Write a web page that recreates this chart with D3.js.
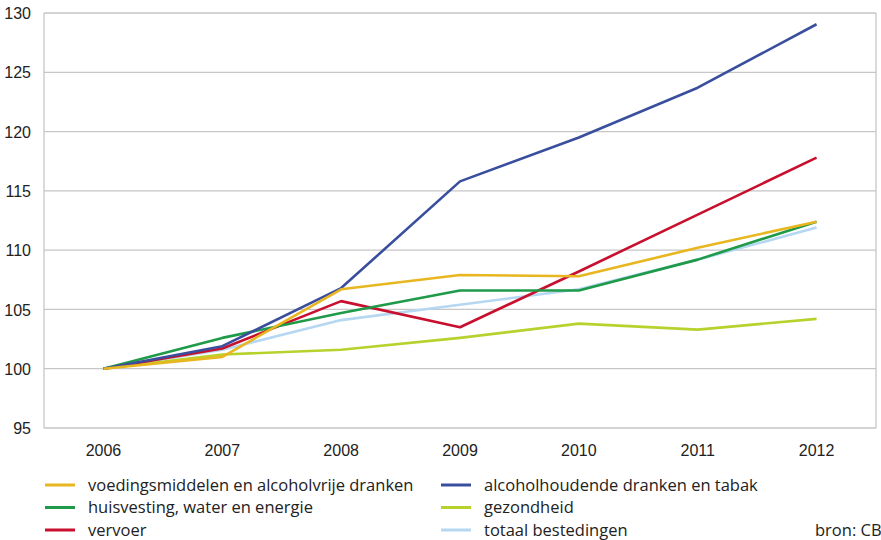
<!DOCTYPE html>
<html>
<head>
<meta charset="utf-8">
<script src="https://cdn.jsdelivr.net/npm/d3@7"></script>
<style>
  body { margin: 0; background: #fff; }
  svg { display: block; font-family: Lato, 'Noto Sans', sans-serif; }
  .tick-label { font-size: 16px; fill: #222; }
  .legend text { font-family: 'Open Sans', Lato, sans-serif; font-size: 16.5px; fill: #222; }
</style>
</head>
<body>
<svg width="881" height="540"></svg>
<script>
// years on the x axis
const years = ['2006', '2007', '2008', '2009', '2010', '2011', '2012']
const yTicks = [95, 100, 105, 110, 115, 120, 125, 130]

// index 2006 = 100
const voeding = [100, 101.0, 106.7, 107.9, 107.8, 110.2, 112.4]
const alcohol = [100, 101.9, 106.8, 115.8, 119.5, 123.7, 129.05]
const huisvesting = [100, 102.6, 104.7, 106.6, 106.6, 109.2, 112.4]
const gezondheid = [100, 101.2, 101.6, 102.6, 103.8, 103.3, 104.2]
const vervoer = [100, 101.7, 105.7, 103.5, 108.2, 113.0, 117.8]
const totaal = [100, 101.6, 104.1, 105.4, 106.7, 109.2, 111.9]

const seriesNames = [
  'voedingsmiddelen en alcoholvrije dranken',
  'alcoholhoudende dranken en tabak',
  'huisvesting, water en energie',
  'gezondheid',
  'vervoer',
  'totaal bestedingen'
]
const seriesValues = [voeding, alcohol, huisvesting, gezondheid, vervoer, totaal]
const colors = ['#e8b61e', '#3a4e9e', '#1e9a48', '#b9d12c', '#c8102e', '#b5d7f1']
// drawing order, back to front
const drawOrder = [5, 3, 4, 2, 1, 0]

const margin = { top: 13, right: 5, bottom: 112, left: 44 },
  width = 881 - margin.left - margin.right,
  height = 540 - margin.top - margin.bottom

const svg = d3.select('svg')
const g = svg.append('g').attr('transform', `translate(${margin.left},${margin.top})`)

const xScale = d3.scaleBand().domain(years).range([0, width])
const yScale = d3.scaleLinear().domain([95, 130]).range([height, 0])

// gridlines
g.selectAll('.grid')
  .data(yTicks)
  .enter()
  .append('line')
  .attr('x1', 0)
  .attr('x2', width)
  .attr('y1', (d) => yScale(d))
  .attr('y2', (d) => yScale(d))
  .attr('stroke', '#c6c6c6')
  .attr('stroke-width', 1.3)

// left and right frame
g.selectAll('.frame')
  .data([0, width])
  .enter()
  .append('line')
  .attr('x1', (d) => d)
  .attr('x2', (d) => d)
  .attr('y1', yScale(130))
  .attr('y2', yScale(95))
  .attr('stroke', '#c6c6c6')
  .attr('stroke-width', 1.3)

const yAxis = d3.axisLeft(yScale).tickValues(yTicks).tickSize(0).tickPadding(13)
const yG = g.append('g').call(yAxis)
yG.select('.domain').remove()
yG.selectAll('text').attr('class', 'tick-label').style('font-family', null).style('font-size', null)
  .attr('dy', '0.35em')

const xAxis = d3.axisBottom(xScale).tickSize(0).tickPadding(17)
const xG = g.append('g').attr('transform', `translate(0,${height})`).call(xAxis)
xG.select('.domain').remove()
xG.selectAll('text').attr('class', 'tick-label')

const line = d3
  .line()
  .x((d, i) => xScale(years[i]) + xScale.bandwidth() / 2)
  .y((d) => yScale(d))

g.selectAll('.series')
  .data(drawOrder)
  .enter()
  .append('path')
  .attr('d', (k) => line(seriesValues[k]))
  .attr('fill', 'none')
  .attr('stroke', (k) => colors[k])
  .attr('stroke-width', 2.6)
  .attr('stroke-linejoin', 'round')

// legend, two columns
const legend = svg.append('g').attr('class', 'legend')
const item = legend
  .selectAll('g')
  .data(seriesNames)
  .enter()
  .append('g')
  .attr('transform', (d, i) => `translate(${i % 2 === 0 ? 45 : 441},${485 + Math.floor(i / 2) * 22.5})`)

item
  .append('line')
  .attr('x1', 0)
  .attr('x2', 30)
  .attr('stroke', (d, i) => colors[i])
  .attr('stroke-width', 3)

item
  .append('text')
  .attr('x', 43)
  .attr('dy', '0.35em')
  .text((d) => d)

legend
  .append('text')
  .attr('x', 815)
  .attr('y', 530)
  .attr('dy', '0.35em')
  .text('bron: CBS')
</script>
</body>
</html>
